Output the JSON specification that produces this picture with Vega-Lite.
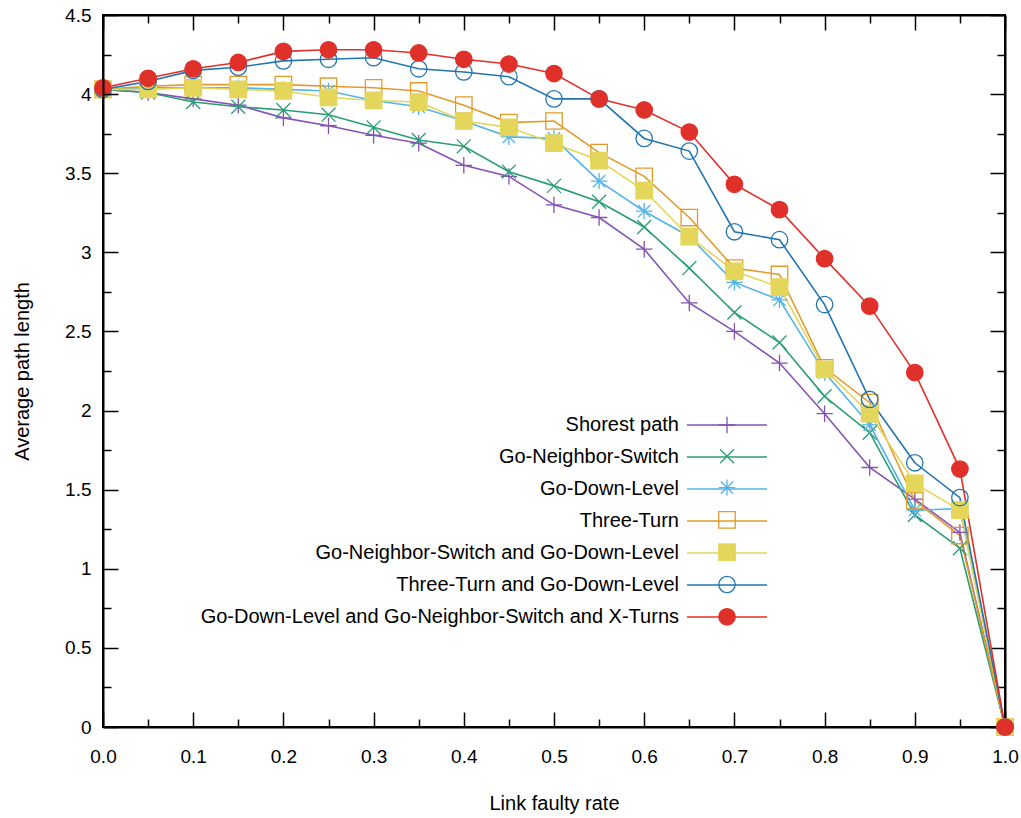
{
  "$schema": "https://vega.github.io/schema/vega-lite/v6.json",
  "width": 902,
  "height": 712,
  "autosize": "none",
  "padding": {"left": 103, "top": 15, "right": 16, "bottom": 91},
  "background": "white",
  "config": {
    "font": "Liberation Sans",
    "view": {"stroke": "black", "strokeWidth": 2},
    "axis": {"grid": false, "domainColor": "black", "domainWidth": 2, "tickColor": "black", "tickWidth": 1.5, "labelColor": "black", "titleColor": "black", "titleFontWeight": "normal", "labelFont": "Liberation Sans", "titleFont": "Liberation Sans"},
    "legend": {"labelFont": "Liberation Sans", "labelColor": "black"}
  },
  "data": {
    "values": [
      {"rate": 0.0, "length": 4.03, "series": "Shorest path"},
      {"rate": 0.05, "length": 4.01, "series": "Shorest path"},
      {"rate": 0.1, "length": 3.97, "series": "Shorest path"},
      {"rate": 0.15, "length": 3.93, "series": "Shorest path"},
      {"rate": 0.2, "length": 3.85, "series": "Shorest path"},
      {"rate": 0.25, "length": 3.80, "series": "Shorest path"},
      {"rate": 0.3, "length": 3.74, "series": "Shorest path"},
      {"rate": 0.35, "length": 3.69, "series": "Shorest path"},
      {"rate": 0.4, "length": 3.55, "series": "Shorest path"},
      {"rate": 0.45, "length": 3.48, "series": "Shorest path"},
      {"rate": 0.5, "length": 3.30, "series": "Shorest path"},
      {"rate": 0.55, "length": 3.22, "series": "Shorest path"},
      {"rate": 0.6, "length": 3.02, "series": "Shorest path"},
      {"rate": 0.65, "length": 2.68, "series": "Shorest path"},
      {"rate": 0.7, "length": 2.50, "series": "Shorest path"},
      {"rate": 0.75, "length": 2.30, "series": "Shorest path"},
      {"rate": 0.8, "length": 1.98, "series": "Shorest path"},
      {"rate": 0.85, "length": 1.64, "series": "Shorest path"},
      {"rate": 0.9, "length": 1.44, "series": "Shorest path"},
      {"rate": 0.95, "length": 1.23, "series": "Shorest path"},
      {"rate": 1.0, "length": 0, "series": "Shorest path"},
      {"rate": 0.0, "length": 4.03, "series": "Go-Neighbor-Switch"},
      {"rate": 0.05, "length": 4.01, "series": "Go-Neighbor-Switch"},
      {"rate": 0.1, "length": 3.95, "series": "Go-Neighbor-Switch"},
      {"rate": 0.15, "length": 3.92, "series": "Go-Neighbor-Switch"},
      {"rate": 0.2, "length": 3.90, "series": "Go-Neighbor-Switch"},
      {"rate": 0.25, "length": 3.87, "series": "Go-Neighbor-Switch"},
      {"rate": 0.3, "length": 3.79, "series": "Go-Neighbor-Switch"},
      {"rate": 0.35, "length": 3.71, "series": "Go-Neighbor-Switch"},
      {"rate": 0.4, "length": 3.67, "series": "Go-Neighbor-Switch"},
      {"rate": 0.45, "length": 3.51, "series": "Go-Neighbor-Switch"},
      {"rate": 0.5, "length": 3.42, "series": "Go-Neighbor-Switch"},
      {"rate": 0.55, "length": 3.32, "series": "Go-Neighbor-Switch"},
      {"rate": 0.6, "length": 3.16, "series": "Go-Neighbor-Switch"},
      {"rate": 0.65, "length": 2.90, "series": "Go-Neighbor-Switch"},
      {"rate": 0.7, "length": 2.62, "series": "Go-Neighbor-Switch"},
      {"rate": 0.75, "length": 2.43, "series": "Go-Neighbor-Switch"},
      {"rate": 0.8, "length": 2.09, "series": "Go-Neighbor-Switch"},
      {"rate": 0.85, "length": 1.86, "series": "Go-Neighbor-Switch"},
      {"rate": 0.9, "length": 1.34, "series": "Go-Neighbor-Switch"},
      {"rate": 0.95, "length": 1.13, "series": "Go-Neighbor-Switch"},
      {"rate": 1.0, "length": 0, "series": "Go-Neighbor-Switch"},
      {"rate": 0.0, "length": 4.03, "series": "Go-Down-Level"},
      {"rate": 0.05, "length": 4.04, "series": "Go-Down-Level"},
      {"rate": 0.1, "length": 4.04, "series": "Go-Down-Level"},
      {"rate": 0.15, "length": 4.04, "series": "Go-Down-Level"},
      {"rate": 0.2, "length": 4.03, "series": "Go-Down-Level"},
      {"rate": 0.25, "length": 4.02, "series": "Go-Down-Level"},
      {"rate": 0.3, "length": 3.96, "series": "Go-Down-Level"},
      {"rate": 0.35, "length": 3.92, "series": "Go-Down-Level"},
      {"rate": 0.4, "length": 3.83, "series": "Go-Down-Level"},
      {"rate": 0.45, "length": 3.73, "series": "Go-Down-Level"},
      {"rate": 0.5, "length": 3.72, "series": "Go-Down-Level"},
      {"rate": 0.55, "length": 3.45, "series": "Go-Down-Level"},
      {"rate": 0.6, "length": 3.26, "series": "Go-Down-Level"},
      {"rate": 0.65, "length": 3.10, "series": "Go-Down-Level"},
      {"rate": 0.7, "length": 2.81, "series": "Go-Down-Level"},
      {"rate": 0.75, "length": 2.70, "series": "Go-Down-Level"},
      {"rate": 0.8, "length": 2.24, "series": "Go-Down-Level"},
      {"rate": 0.85, "length": 1.91, "series": "Go-Down-Level"},
      {"rate": 0.9, "length": 1.37, "series": "Go-Down-Level"},
      {"rate": 0.95, "length": 1.38, "series": "Go-Down-Level"},
      {"rate": 1.0, "length": 0, "series": "Go-Down-Level"},
      {"rate": 0.0, "length": 4.03, "series": "Three-Turn"},
      {"rate": 0.05, "length": 4.05, "series": "Three-Turn"},
      {"rate": 0.1, "length": 4.06, "series": "Three-Turn"},
      {"rate": 0.15, "length": 4.06, "series": "Three-Turn"},
      {"rate": 0.2, "length": 4.06, "series": "Three-Turn"},
      {"rate": 0.25, "length": 4.05, "series": "Three-Turn"},
      {"rate": 0.3, "length": 4.04, "series": "Three-Turn"},
      {"rate": 0.35, "length": 4.02, "series": "Three-Turn"},
      {"rate": 0.4, "length": 3.93, "series": "Three-Turn"},
      {"rate": 0.45, "length": 3.82, "series": "Three-Turn"},
      {"rate": 0.5, "length": 3.83, "series": "Three-Turn"},
      {"rate": 0.55, "length": 3.63, "series": "Three-Turn"},
      {"rate": 0.6, "length": 3.48, "series": "Three-Turn"},
      {"rate": 0.65, "length": 3.22, "series": "Three-Turn"},
      {"rate": 0.7, "length": 2.90, "series": "Three-Turn"},
      {"rate": 0.75, "length": 2.86, "series": "Three-Turn"},
      {"rate": 0.8, "length": 2.27, "series": "Three-Turn"},
      {"rate": 0.85, "length": 2.05, "series": "Three-Turn"},
      {"rate": 0.9, "length": 1.43, "series": "Three-Turn"},
      {"rate": 0.95, "length": 1.21, "series": "Three-Turn"},
      {"rate": 1.0, "length": 0, "series": "Three-Turn"},
      {"rate": 0.0, "length": 4.03, "series": "Go-Neighbor-Switch and Go-Down-Level"},
      {"rate": 0.05, "length": 4.03, "series": "Go-Neighbor-Switch and Go-Down-Level"},
      {"rate": 0.1, "length": 4.04, "series": "Go-Neighbor-Switch and Go-Down-Level"},
      {"rate": 0.15, "length": 4.03, "series": "Go-Neighbor-Switch and Go-Down-Level"},
      {"rate": 0.2, "length": 4.02, "series": "Go-Neighbor-Switch and Go-Down-Level"},
      {"rate": 0.25, "length": 3.98, "series": "Go-Neighbor-Switch and Go-Down-Level"},
      {"rate": 0.3, "length": 3.96, "series": "Go-Neighbor-Switch and Go-Down-Level"},
      {"rate": 0.35, "length": 3.95, "series": "Go-Neighbor-Switch and Go-Down-Level"},
      {"rate": 0.4, "length": 3.83, "series": "Go-Neighbor-Switch and Go-Down-Level"},
      {"rate": 0.45, "length": 3.79, "series": "Go-Neighbor-Switch and Go-Down-Level"},
      {"rate": 0.5, "length": 3.69, "series": "Go-Neighbor-Switch and Go-Down-Level"},
      {"rate": 0.55, "length": 3.58, "series": "Go-Neighbor-Switch and Go-Down-Level"},
      {"rate": 0.6, "length": 3.39, "series": "Go-Neighbor-Switch and Go-Down-Level"},
      {"rate": 0.65, "length": 3.10, "series": "Go-Neighbor-Switch and Go-Down-Level"},
      {"rate": 0.7, "length": 2.88, "series": "Go-Neighbor-Switch and Go-Down-Level"},
      {"rate": 0.75, "length": 2.78, "series": "Go-Neighbor-Switch and Go-Down-Level"},
      {"rate": 0.8, "length": 2.26, "series": "Go-Neighbor-Switch and Go-Down-Level"},
      {"rate": 0.85, "length": 1.98, "series": "Go-Neighbor-Switch and Go-Down-Level"},
      {"rate": 0.9, "length": 1.54, "series": "Go-Neighbor-Switch and Go-Down-Level"},
      {"rate": 0.95, "length": 1.37, "series": "Go-Neighbor-Switch and Go-Down-Level"},
      {"rate": 1.0, "length": 0, "series": "Go-Neighbor-Switch and Go-Down-Level"},
      {"rate": 0.0, "length": 4.03, "series": "Three-Turn and Go-Down-Level"},
      {"rate": 0.05, "length": 4.08, "series": "Three-Turn and Go-Down-Level"},
      {"rate": 0.1, "length": 4.15, "series": "Three-Turn and Go-Down-Level"},
      {"rate": 0.15, "length": 4.17, "series": "Three-Turn and Go-Down-Level"},
      {"rate": 0.2, "length": 4.21, "series": "Three-Turn and Go-Down-Level"},
      {"rate": 0.25, "length": 4.22, "series": "Three-Turn and Go-Down-Level"},
      {"rate": 0.3, "length": 4.23, "series": "Three-Turn and Go-Down-Level"},
      {"rate": 0.35, "length": 4.16, "series": "Three-Turn and Go-Down-Level"},
      {"rate": 0.4, "length": 4.14, "series": "Three-Turn and Go-Down-Level"},
      {"rate": 0.45, "length": 4.11, "series": "Three-Turn and Go-Down-Level"},
      {"rate": 0.5, "length": 3.97, "series": "Three-Turn and Go-Down-Level"},
      {"rate": 0.55, "length": 3.97, "series": "Three-Turn and Go-Down-Level"},
      {"rate": 0.6, "length": 3.72, "series": "Three-Turn and Go-Down-Level"},
      {"rate": 0.65, "length": 3.64, "series": "Three-Turn and Go-Down-Level"},
      {"rate": 0.7, "length": 3.13, "series": "Three-Turn and Go-Down-Level"},
      {"rate": 0.75, "length": 3.08, "series": "Three-Turn and Go-Down-Level"},
      {"rate": 0.8, "length": 2.67, "series": "Three-Turn and Go-Down-Level"},
      {"rate": 0.85, "length": 2.07, "series": "Three-Turn and Go-Down-Level"},
      {"rate": 0.9, "length": 1.67, "series": "Three-Turn and Go-Down-Level"},
      {"rate": 0.95, "length": 1.45, "series": "Three-Turn and Go-Down-Level"},
      {"rate": 1.0, "length": 0, "series": "Three-Turn and Go-Down-Level"},
      {"rate": 0.0, "length": 4.04, "series": "Go-Down-Level and Go-Neighbor-Switch and X-Turns"},
      {"rate": 0.05, "length": 4.10, "series": "Go-Down-Level and Go-Neighbor-Switch and X-Turns"},
      {"rate": 0.1, "length": 4.16, "series": "Go-Down-Level and Go-Neighbor-Switch and X-Turns"},
      {"rate": 0.15, "length": 4.20, "series": "Go-Down-Level and Go-Neighbor-Switch and X-Turns"},
      {"rate": 0.2, "length": 4.27, "series": "Go-Down-Level and Go-Neighbor-Switch and X-Turns"},
      {"rate": 0.25, "length": 4.28, "series": "Go-Down-Level and Go-Neighbor-Switch and X-Turns"},
      {"rate": 0.3, "length": 4.28, "series": "Go-Down-Level and Go-Neighbor-Switch and X-Turns"},
      {"rate": 0.35, "length": 4.26, "series": "Go-Down-Level and Go-Neighbor-Switch and X-Turns"},
      {"rate": 0.4, "length": 4.22, "series": "Go-Down-Level and Go-Neighbor-Switch and X-Turns"},
      {"rate": 0.45, "length": 4.19, "series": "Go-Down-Level and Go-Neighbor-Switch and X-Turns"},
      {"rate": 0.5, "length": 4.13, "series": "Go-Down-Level and Go-Neighbor-Switch and X-Turns"},
      {"rate": 0.55, "length": 3.97, "series": "Go-Down-Level and Go-Neighbor-Switch and X-Turns"},
      {"rate": 0.6, "length": 3.90, "series": "Go-Down-Level and Go-Neighbor-Switch and X-Turns"},
      {"rate": 0.65, "length": 3.76, "series": "Go-Down-Level and Go-Neighbor-Switch and X-Turns"},
      {"rate": 0.7, "length": 3.43, "series": "Go-Down-Level and Go-Neighbor-Switch and X-Turns"},
      {"rate": 0.75, "length": 3.27, "series": "Go-Down-Level and Go-Neighbor-Switch and X-Turns"},
      {"rate": 0.8, "length": 2.96, "series": "Go-Down-Level and Go-Neighbor-Switch and X-Turns"},
      {"rate": 0.85, "length": 2.66, "series": "Go-Down-Level and Go-Neighbor-Switch and X-Turns"},
      {"rate": 0.9, "length": 2.24, "series": "Go-Down-Level and Go-Neighbor-Switch and X-Turns"},
      {"rate": 0.95, "length": 1.63, "series": "Go-Down-Level and Go-Neighbor-Switch and X-Turns"},
      {"rate": 1.0, "length": 0, "series": "Go-Down-Level and Go-Neighbor-Switch and X-Turns"}
    ]
  },
  "layer": [
    {
      "mark": {"type": "line", "strokeWidth": 1.6},
      "encoding": {
        "x": {
          "field": "rate", "type": "quantitative",
          "scale": {"domain": [0, 1], "nice": false, "zero": false},
          "axis": {
            "orient": "bottom",
            "values": [0, 0.05, 0.1, 0.15, 0.2, 0.25, 0.3, 0.35, 0.4, 0.45, 0.5, 0.55, 0.6, 0.65, 0.7, 0.75, 0.8, 0.85, 0.9, 0.95, 1.0],
            "format": ".1f",
            "tickSize": {"condition": {"test": "abs(datum.value*10 - round(datum.value*10)) < 0.001", "value": -15}, "value": -8},
            "labelExpr": "abs(datum.value*10 - round(datum.value*10)) < 0.001 ? datum.label : ''",
            "labelFlush": false, "labelOverlap": false, "labelFontSize": 19, "labelPadding": 35,
            "title": "Link faulty rate", "titleFontSize": 20, "titlePadding": 20
          }
        },
        "y": {
          "field": "length", "type": "quantitative",
          "scale": {"domain": [0, 4.5], "nice": false},
          "axis": {
            "orient": "left", "zindex": 1,
            "values": [0, 0.25, 0.5, 0.75, 1, 1.25, 1.5, 1.75, 2, 2.25, 2.5, 2.75, 3, 3.25, 3.5, 3.75, 4, 4.25, 4.5],
            "format": "~g",
            "tickSize": {"condition": {"test": "abs(datum.value*2 - round(datum.value*2)) < 0.001", "value": -15}, "value": -8},
            "labelExpr": "abs(datum.value*2 - round(datum.value*2)) < 0.001 ? datum.label : ''",
            "labelFlush": false, "labelOverlap": false, "labelBound": false, "labelFontSize": 19, "labelPadding": 27,
            "title": "Average path length", "titleFontSize": 20, "titlePadding": 32
          }
        },
        "color": {
          "field": "series", "type": "nominal",
          "sort": ["Shorest path", "Go-Neighbor-Switch", "Go-Down-Level", "Three-Turn", "Go-Neighbor-Switch and Go-Down-Level", "Three-Turn and Go-Down-Level", "Go-Down-Level and Go-Neighbor-Switch and X-Turns"],
          "scale": {
            "range": ["#8453b5", "#2a9d75", "#56b4e9", "#e39a2a", "#e3d65a", "#2275b0", "#e0302a"]
          },
          "legend": {
            "orient": "none", "legendX": 614, "legendY": 400, "title": null,
            "symbolType": "M-5,0H5", "symbolSize": 256, "symbolStrokeWidth": 1.6,
            "labelAlign": "right", "labelOffset": -58, "labelFontSize": 20, "labelLimit": 1000, "rowPadding": 12
          }
        }
      }
    },
    {
      "mark": {"type": "point", "strokeWidth": 1.3, "opacity": 1, "size": 270},
      "encoding": {
        "x": {
          "field": "rate", "type": "quantitative",
          "axis": {
            "orient": "top",
            "values": [0, 0.05, 0.1, 0.15, 0.2, 0.25, 0.3, 0.35, 0.4, 0.45, 0.5, 0.55, 0.6, 0.65, 0.7, 0.75, 0.8, 0.85, 0.9, 0.95, 1.0],
            "tickSize": {"condition": {"test": "abs(datum.value*10 - round(datum.value*10)) < 0.001", "value": -15}, "value": -8},
            "labels": false, "title": null
          }
        },
        "y": {
          "field": "length", "type": "quantitative",
          "axis": {
            "orient": "right",
            "values": [0, 0.25, 0.5, 0.75, 1, 1.25, 1.5, 1.75, 2, 2.25, 2.5, 2.75, 3, 3.25, 3.5, 3.75, 4, 4.25, 4.5],
            "tickSize": {"condition": {"test": "abs(datum.value*2 - round(datum.value*2)) < 0.001", "value": -15}, "value": -8},
            "labels": false, "title": null
          }
        },
        "stroke": {
          "field": "series", "type": "nominal",
          "scale": {
            "domain": ["Shorest path", "Go-Neighbor-Switch", "Go-Down-Level", "Three-Turn", "Go-Neighbor-Switch and Go-Down-Level", "Three-Turn and Go-Down-Level", "Go-Down-Level and Go-Neighbor-Switch and X-Turns"],
            "range": ["#8453b5", "#2a9d75", "#56b4e9", "#e39a2a", "#e3d65a", "#2275b0", "#e0302a"]
          },
          "legend": {"orient": "none", "legendX": 614, "legendY": 400, "title": null, "labelExpr": "''", "labelFontSize": 20, "rowPadding": 10.3, "symbolSize": 270, "symbolStrokeWidth": 1.3, "symbolFillColor": "transparent", "symbolStrokeColor": "black"}
        },
        "fill": {
          "field": "series", "type": "nominal",
          "scale": {
            "domain": ["Shorest path", "Go-Neighbor-Switch", "Go-Down-Level", "Three-Turn", "Go-Neighbor-Switch and Go-Down-Level", "Three-Turn and Go-Down-Level", "Go-Down-Level and Go-Neighbor-Switch and X-Turns"],
            "range": ["transparent", "transparent", "transparent", "transparent", "#e3d65a", "transparent", "#e0302a"]
          },
          "legend": {"orient": "none", "legendX": 614, "legendY": 400, "title": null, "labelExpr": "''", "labelFontSize": 20, "rowPadding": 10.3, "symbolSize": 270, "symbolStrokeWidth": 1.3, "symbolFillColor": "transparent", "symbolStrokeColor": "black"}
        },
        "shape": {
          "field": "series", "type": "nominal",
          "scale": {
            "domain": ["Shorest path", "Go-Neighbor-Switch", "Go-Down-Level", "Three-Turn", "Go-Neighbor-Switch and Go-Down-Level", "Three-Turn and Go-Down-Level", "Go-Down-Level and Go-Neighbor-Switch and X-Turns"],
            "range": ["M-1,0H1M0,-1V1", "M-0.85,-0.85L0.85,0.85M-0.85,0.85L0.85,-0.85", "M-1,0H1M0,-1V1M-0.75,-0.75L0.75,0.75M-0.75,0.75L0.75,-0.75", "square", "square", "circle", "circle"]
          },
          "legend": {"orient": "none", "legendX": 614, "legendY": 400, "title": null, "labelExpr": "''", "labelFontSize": 20, "rowPadding": 10.3, "symbolSize": 270, "symbolStrokeWidth": 1.3, "symbolFillColor": "transparent", "symbolStrokeColor": "black"}
        }
      }
    }
  ],
  "resolve": {"axis": {"x": "independent", "y": "independent"}}
}
